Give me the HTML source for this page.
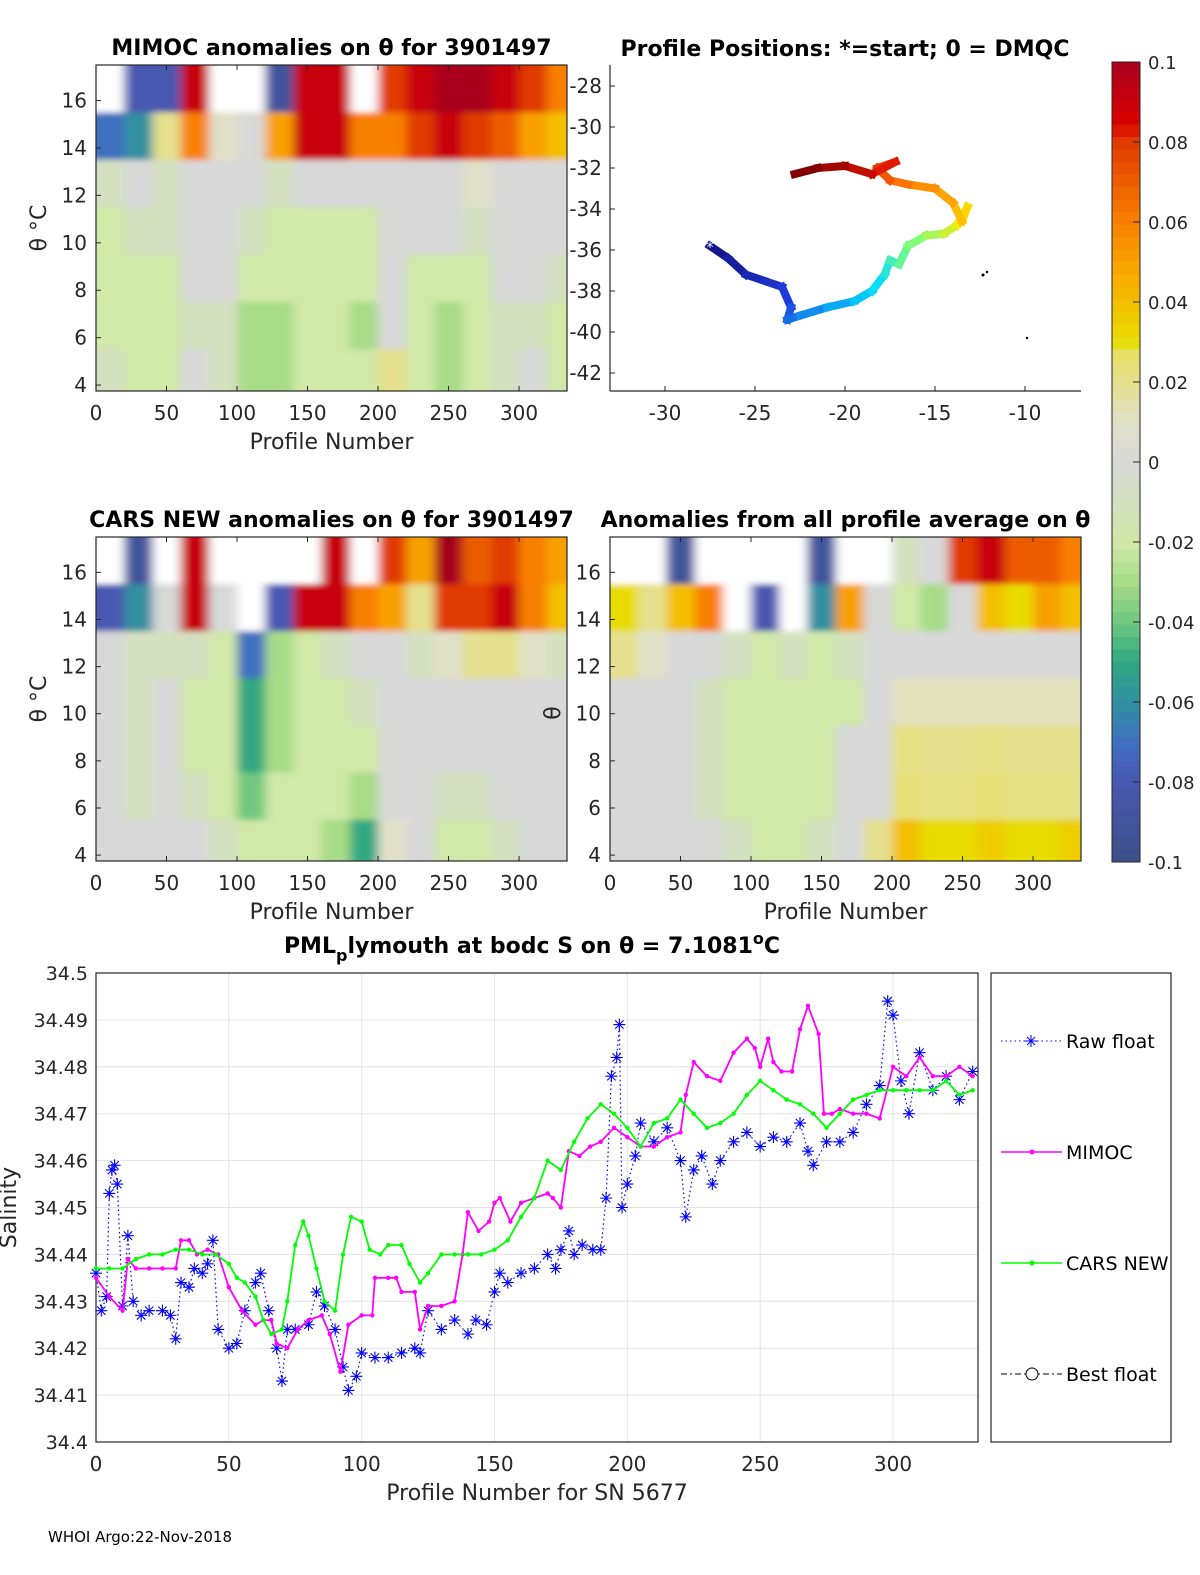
<!DOCTYPE html>
<html><head><meta charset="utf-8">
<style>
body{margin:0;background:#fff;}
svg{display:block;font-family:"DejaVu Sans","Liberation Sans",sans-serif;}
</style></head>
<body>
<svg id="fig" width="1200" height="1575" viewBox="0 0 1200 1575" xmlns="http://www.w3.org/2000/svg">
<defs>
<filter id="soft" x="0" y="0" width="1" height="1"><feGaussianBlur stdDeviation="5 3"/></filter>
<clipPath id="c1"><rect x="96" y="65" width="471" height="326"/></clipPath>
<clipPath id="c2"><rect x="96" y="537" width="471" height="324"/></clipPath>
<clipPath id="c3"><rect x="610" y="537" width="471" height="324"/></clipPath>
</defs>
<g id="layer"></g>
</svg>
<script>
// ---------- DATA ----------
const heatRowsTheta = [17.5,15.5,13.5,11.5,9.5,7.5,5.5,3.75];
const heatColProfiles = [0,20,40,60,80,100,120,140,160,180,200,220,240,260,280,300,320,334];
const mimocAnom = [
[null,-0.08,-0.08,0.09,null,null,-0.09,0.09,0.09,null,0.08,0.09,0.1,0.1,0.09,0.08,0.06],
[-0.07,-0.06,0.02,0.06,0.01,0.0,0.05,0.09,0.09,0.06,0.06,0.08,0.09,0.08,0.07,0.05,0.04],
[-0.01,0.0,-0.01,0.0,0.0,0.0,-0.01,0.0,0.0,0.0,0.0,0.0,0.0,0.01,0.0,0.0,0.0],
[-0.02,-0.01,-0.01,0.0,0.0,-0.01,-0.02,-0.02,-0.02,-0.02,0.0,0.0,0.0,-0.01,0.0,0.0,0.0],
[-0.02,-0.02,-0.02,0.0,0.0,-0.02,-0.02,-0.02,-0.02,-0.02,0.0,-0.02,-0.02,-0.02,0.0,0.0,-0.01],
[-0.02,-0.02,-0.02,-0.01,-0.01,-0.03,-0.03,-0.02,-0.02,-0.03,0.0,-0.02,-0.03,-0.02,-0.01,-0.01,-0.02],
[-0.01,-0.02,-0.02,0.0,-0.01,-0.03,-0.03,-0.02,-0.02,-0.02,0.02,-0.02,-0.03,-0.02,-0.01,0.0,-0.02]];
const carsAnom = [
[null,-0.09,null,0.09,null,null,null,null,0.09,null,0.08,0.05,0.1,0.07,0.08,0.06,0.05],
[-0.08,-0.06,0.0,0.09,0.0,null,-0.08,0.09,0.09,0.06,0.05,0.02,0.08,0.08,0.09,0.06,0.04],
[0.0,-0.01,-0.01,-0.01,-0.02,-0.07,-0.03,-0.02,-0.01,0.0,0.0,-0.01,0.01,0.02,0.02,0.01,-0.01],
[0.0,-0.01,0.0,-0.02,-0.02,-0.05,-0.03,-0.02,-0.02,-0.01,0.0,0.0,0.0,0.0,0.0,0.0,0.0],
[0.0,-0.01,0.0,-0.02,-0.02,-0.05,-0.03,-0.02,-0.02,-0.02,0.0,0.0,0.0,0.0,0.0,0.0,0.0],
[0.0,-0.01,0.0,-0.01,-0.02,-0.04,-0.02,-0.02,-0.02,-0.03,0.0,0.0,-0.01,-0.01,0.0,0.0,0.0],
[0.0,0.0,0.0,0.0,-0.01,-0.02,-0.02,-0.02,-0.03,-0.05,0.01,0.0,-0.02,-0.02,-0.01,0.0,0.0]];
const avgAnom = [
[null,null,-0.09,null,null,null,null,-0.09,null,null,-0.01,0.0,0.08,0.09,0.07,0.07,0.06],
[0.03,0.02,0.04,0.06,null,-0.08,null,-0.06,0.05,0.0,-0.02,-0.03,0.0,0.04,0.03,0.05,0.04],
[0.02,0.01,0.0,0.0,-0.01,-0.02,-0.01,-0.02,-0.01,0.0,0.0,0.0,0.0,0.0,0.0,0.0,0.0],
[0.0,0.0,0.0,-0.01,-0.02,-0.02,-0.02,-0.02,-0.02,0.0,0.012,0.012,0.012,0.012,0.012,0.012,0.012],
[0.0,0.0,0.0,-0.01,-0.02,-0.02,-0.02,-0.02,0.0,0.0,0.022,0.02,0.02,0.022,0.02,0.02,0.02],
[0.0,0.0,0.0,-0.01,-0.02,-0.02,-0.02,-0.02,0.0,0.0,0.024,0.022,0.022,0.024,0.022,0.022,0.022],
[0.0,0.0,0.0,0.0,-0.01,-0.02,-0.02,-0.01,0.0,0.02,0.04,0.03,0.03,0.035,0.03,0.03,0.035]];
const trackLon = [-27.5,-26.5,-25.5,-24.5,-23.5,-23.0,-23.2,-22.5,-21.0,-19.5,-18.5,-17.8,-17.5,-17.0,-16.5,-15.5,-14.5,-13.8,-13.2,-13.5,-14.0,-15.0,-16.5,-17.5,-18.2,-17.2,-18.5,-20.0,-21.5,-22.8];
const trackLat = [-35.8,-36.4,-37.2,-37.5,-37.8,-38.8,-39.4,-39.2,-38.8,-38.5,-38.0,-37.2,-36.5,-36.7,-35.8,-35.3,-35.2,-34.8,-33.9,-34.6,-33.7,-33.0,-32.8,-32.6,-32.0,-31.7,-32.3,-31.9,-32.0,-32.3];
const rawX = [0,2,4,5,6,7,8,10,12,14,17,20,25,28,30,32,35,37,40,42,44,46,50,53,56,60,62,65,68,70,72,75,80,83,86,90,93,95,98,100,105,110,115,120,122,125,130,135,140,143,147,150,152,155,160,165,170,173,175,178,180,183,187,190,192,194,196,197,198,200,203,205,210,215,220,222,225,228,232,235,240,245,250,255,260,265,268,270,275,280,285,290,295,298,300,303,306,310,315,320,325,330];
const rawY = [34.436,34.428,34.431,34.453,34.458,34.459,34.455,34.429,34.444,34.430,34.427,34.428,34.428,34.427,34.422,34.434,34.433,34.437,34.436,34.438,34.443,34.424,34.420,34.421,34.428,34.434,34.436,34.428,34.420,34.413,34.424,34.424,34.425,34.432,34.429,34.424,34.416,34.411,34.414,34.419,34.418,34.418,34.419,34.420,34.419,34.428,34.424,34.426,34.423,34.426,34.425,34.432,34.436,34.434,34.436,34.437,34.440,34.437,34.441,34.445,34.440,34.442,34.441,34.441,34.452,34.478,34.482,34.489,34.450,34.455,34.461,34.468,34.464,34.467,34.460,34.448,34.458,34.461,34.455,34.460,34.464,34.466,34.463,34.465,34.464,34.468,34.462,34.459,34.464,34.464,34.466,34.472,34.476,34.494,34.491,34.477,34.470,34.483,34.475,34.478,34.473,34.479];
const mimocX = [0,5,10,12,15,20,25,30,32,35,38,42,46,50,55,60,63,66,68,72,76,80,85,88,92,95,100,104,105,110,113,115,120,122,125,130,135,138,140,144,148,150,152,156,160,165,170,172,175,178,182,186,190,195,200,205,210,215,220,222,225,230,235,240,245,248,250,253,255,258,262,265,268,272,274,277,280,285,290,295,300,305,310,315,320,325,330];
const mimocY = [34.435,34.431,34.428,34.439,34.437,34.437,34.437,34.437,34.443,34.443,34.440,34.441,34.440,34.433,34.428,34.425,34.426,34.426,34.421,34.420,34.424,34.426,34.427,34.423,34.415,34.425,34.427,34.427,34.435,34.435,34.435,34.432,34.432,34.424,34.429,34.429,34.430,34.440,34.449,34.445,34.447,34.451,34.452,34.447,34.451,34.452,34.453,34.452,34.450,34.462,34.461,34.463,34.464,34.467,34.465,34.463,34.463,34.465,34.466,34.474,34.481,34.478,34.477,34.483,34.486,34.484,34.480,34.486,34.481,34.479,34.479,34.488,34.493,34.487,34.470,34.470,34.471,34.470,34.470,34.469,34.480,34.478,34.482,34.478,34.478,34.480,34.478];
const carsX = [0,5,10,15,20,25,30,35,40,45,50,53,56,60,63,66,70,72,75,78,80,83,86,90,93,96,100,103,107,110,115,118,122,125,130,135,140,145,150,155,160,165,170,175,180,185,190,195,200,205,210,215,220,225,230,235,240,245,250,255,260,265,270,275,280,285,290,295,300,305,310,315,320,325,330];
const carsY = [34.437,34.437,34.437,34.439,34.440,34.440,34.441,34.441,34.440,34.440,34.438,34.435,34.434,34.431,34.426,34.423,34.424,34.430,34.442,34.447,34.444,34.437,34.430,34.428,34.440,34.448,34.447,34.441,34.440,34.442,34.442,34.438,34.434,34.436,34.440,34.440,34.440,34.440,34.441,34.443,34.448,34.452,34.460,34.458,34.464,34.469,34.472,34.470,34.467,34.463,34.468,34.469,34.473,34.470,34.467,34.468,34.470,34.474,34.477,34.475,34.473,34.472,34.470,34.467,34.470,34.473,34.474,34.475,34.475,34.475,34.475,34.475,34.477,34.474,34.475];
const salTicks = [34.4,34.41,34.42,34.43,34.44,34.45,34.46,34.47,34.48,34.49,34.5];
const profTicks = [0,50,100,150,200,250,300];
const thetaTicks = [4,6,8,10,12,14,16];
const latTicks = [-28,-30,-32,-34,-36,-38,-40,-42];
const lonTicks = [-30,-25,-20,-15,-10];
const cbTicks = [0.1,0.08,0.06,0.04,0.02,0,-0.02,-0.04,-0.06,-0.08,-0.1];

// ---------- helpers ----------
const NS='http://www.w3.org/2000/svg';
const L=document.getElementById('layer');
function mk(tag,at,parent){const e=document.createElementNS(NS,tag);for(const k in at)e.setAttribute(k,at[k]);(parent||L).appendChild(e);return e;}
function txt(x,y,s,size,anchor,extra){const e=mk('text',Object.assign({x:x,y:y,'font-size':size,'text-anchor':anchor||'middle',fill:'#262626'},extra||{}));e.textContent=s;return e;}
const stops=[[-0.1,[61,79,136]],[-0.08,[72,88,176]],[-0.07,[64,112,192]],[-0.06,[48,144,160]],[-0.05,[48,168,128]],[-0.04,[112,200,128]],[-0.03,[168,220,136]],[-0.02,[208,232,168]],[0,[216,216,216]],[0.01,[224,224,200]],[0.028,[232,224,96]],[0.03,[232,220,0]],[0.045,[248,176,0]],[0.06,[248,128,0]],[0.08,[224,58,0]],[0.085,[216,0,0]],[0.1,[168,0,30]]];
function interp(st,v){for(let i=0;i<st.length-1;i++){const a=st[i],b=st[i+1];if(v<=b[0]){const t=Math.max(0,(v-a[0])/(b[0]-a[0]));const c=a[1].map((x,j)=>Math.round(x+(b[1][j]-x)*t));return 'rgb('+c.join(',')+')';}}return 'rgb('+st[st.length-1][1].join(',')+')';}
function cmap(v){v=Math.max(-0.1,Math.min(0.1,v));return interp(stops,v);}
const jet=[[0,[20,20,140]],[0.15,[30,60,220]],[0.35,[0,220,255]],[0.5,[130,255,120]],[0.62,[255,230,0]],[0.78,[255,120,0]],[0.9,[220,20,0]],[1,[130,0,0]]];

// ---------- heatmap panels ----------
function heatPanel(x0,y0,w,h,data,name,title,showYLabel,clip){
  const g=mk('g',{});
  
  
  const px=p=>x0+p*(w/334), py=t=>y0+(17.5-t)*(h/13.75);
  const cg=mk('g',{'clip-path':'url(#'+clip+')'},g);
  const fg=mk('g',{filter:'url(#soft)'},cg);
  mk('rect',{x:x0-20,y:y0-20,width:w+40,height:h+40,fill:'none'},fg);
  for(let r=0;r<data.length;r++)for(let c=0;c<data[r].length;c++){
    const v=data[r][c];
    const x1=px(heatColProfiles[c]),x2=px(heatColProfiles[c+1]),yA=py(heatRowsTheta[r]),yB=py(heatRowsTheta[r+1]);
    const ext=(r===data.length-1)?12:0, extT=(r===0)?12:0, extL=(c===0)?12:0, extR=(c===data[r].length-1)?12:0;
    const cell=mk('rect',{x:x1-extL,y:yA-extT,width:x2-x1+0.5+extL+extR,height:yB-yA+0.5+ext+extT,fill:v===null?'#fff':cmap(v)},fg);
    
    
  }
  mk('rect',{x:x0,y:y0,width:w,height:h,fill:'none',stroke:'#262626','stroke-width':1.2},g);
  profTicks.forEach(p=>{mk('line',{x1:px(p),x2:px(p),y1:y0+h,y2:y0+h-5,stroke:'#262626'},g);mk('line',{x1:px(p),x2:px(p),y1:y0,y2:y0+5,stroke:'#262626'},g);txt(px(p),y0+h+29,String(p),20);});
  thetaTicks.forEach(t=>{mk('line',{x1:x0,x2:x0+5,y1:py(t),y2:py(t),stroke:'#262626'},g);txt(x0-9,py(t)+7,String(t),20,'end');});
  txt(x0+w/2,y0+h+58,'Profile Number',22);
  const tt=txt(x0+w/2,y0-10,title,22,'middle',{'font-weight':'bold',fill:'#000'});
  
  
  if(showYLabel){const yl=txt(0,0,'θ °C',22,'middle',{transform:'translate('+(x0-50)+','+(y0+h/2)+') rotate(-90)'});}
}
heatPanel(96,65,471,326,mimocAnom,'mimoc-anomaly-panel','MIMOC anomalies on θ  for 3901497',true,'c1');
heatPanel(96,537,471,324,carsAnom,'cars-anomaly-panel','CARS NEW anomalies on θ for 3901497',true,'c2');
heatPanel(610,537,471,324,avgAnom,'average-anomaly-panel','Anomalies from all profile average on θ',false,'c3');
txt(553,720,'θ',22,'middle',{transform:'rotate(-90 553 713)'});

// ---------- map panel ----------
(function(){
  const x0=610,y0=65,w=471,h=326;
  const g=mk('g',{});
  
  
  const lx=lon=>665+(lon+30)*18, ly=lat=>86+(-28-lat)*20.5;
  mk('line',{x1:x0,x2:x0+w,y1:y0+h,y2:y0+h,stroke:'#262626','stroke-width':1.2},g);
  mk('line',{x1:x0,x2:x0,y1:y0,y2:y0+h,stroke:'#262626','stroke-width':1.2},g);
  lonTicks.forEach(l=>{mk('line',{x1:lx(l),x2:lx(l),y1:y0+h,y2:y0+h-5,stroke:'#262626'},g);txt(lx(l),y0+h+29,String(l),20);});
  latTicks.forEach(l=>{mk('line',{x1:x0,x2:x0+5,y1:ly(l),y2:ly(l),stroke:'#262626'},g);txt(x0-8,ly(l)+7,String(l),20,'end');});
  const n=trackLon.length;
  for(let i=0;i<n-1;i++){
    const seg=mk('line',{x1:lx(trackLon[i]),y1:ly(trackLat[i]),x2:lx(trackLon[i+1]),y2:ly(trackLat[i+1]),stroke:interp(jet,i/(n-2)),'stroke-width':8,'stroke-linecap':'square'},g);
    
    
  }
  txt(lx(trackLon[0]),ly(trackLat[0])+6,'*',14,'middle',{fill:'#fff'});
  mk('circle',{cx:983,cy:275,r:1.5,fill:'#000'},g);mk('circle',{cx:987,cy:272,r:1.2,fill:'#000'},g);mk('circle',{cx:1027,cy:338,r:1.2,fill:'#000'},g);
  const tt=txt(845,56,'Profile Positions: *=start; 0 = DMQC',22,'middle',{'font-weight':'bold',fill:'#000'});
  
  
})();

// ---------- colorbar ----------
(function(){
  const x0=1112,y0=62,w=28,h=800;
  const g=mk('g',{});
  
  
  const cy=v=>y0+(0.1-v)/0.2*h;
  for(let i=0;i<64;i++){const v1=0.1-i*0.2/64;mk('rect',{x:x0,y:cy(v1),width:w,height:h/64+0.5,fill:cmap(v1-0.1/64)},g);}
  mk('rect',{x:x0,y:y0,width:w,height:h,fill:'none',stroke:'#262626','stroke-width':1},g);
  cbTicks.forEach(v=>{mk('line',{x1:x0+w-7,x2:x0+w,y1:cy(v),y2:cy(v),stroke:'#262626'},g);txt(x0+w+8,cy(v)+7,String(v),18,'start');});
})();

// ---------- salinity chart ----------
(function(){
  const x0=96,y0=973,w=882,h=469;
  const g=mk('g',{});
  
  
  const sx=p=>x0+p*(w/332), sy=s=>y0+(34.5-s)/0.1*h;
  mk('rect',{x:x0,y:y0,width:w,height:h,fill:'#fff'},g);
  salTicks.forEach(s=>{mk('line',{x1:x0,x2:x0+w,y1:sy(s),y2:sy(s),stroke:'#e3e3e3'},g);txt(x0-8,sy(s)+7,String(s),19,'end');});
  profTicks.forEach(p=>{mk('line',{x1:sx(p),x2:sx(p),y1:y0,y2:y0+h,stroke:'#e3e3e3'},g);txt(sx(p),y0+h+29,String(p),20);});
  mk('rect',{x:x0,y:y0,width:w,height:h,fill:'none',stroke:'#262626','stroke-width':1.2},g);
  function line(X,Y,color,dash,name){const d=X.map((x,i)=>(i?'L':'M')+sx(x).toFixed(1)+','+sy(Y[i]).toFixed(1)).join('');const p=mk('path',{d:d,fill:'none',stroke:color,'stroke-width':dash?1.2:1.8,'stroke-dasharray':dash||'none'},g);}
  line(rawX,rawY,'#0000ff','1.5 3','raw-float-line');
  rawX.forEach((x,i)=>{const cx=sx(x),cy=sy(rawY[i]),r=6;const s=mk('path',{d:`M${cx-r},${cy}L${cx+r},${cy}M${cx},${cy-r}L${cx},${cy+r}M${cx-4.2},${cy-4.2}L${cx+4.2},${cy+4.2}M${cx-4.2},${cy+4.2}L${cx+4.2},${cy-4.2}`,stroke:'#0000ff','stroke-width':1.1},g);});
  line(mimocX,mimocY,'#ff00ff',null,'mimoc-line');
  mimocX.forEach((x,i)=>{const c=mk('circle',{cx:sx(x),cy:sy(mimocY[i]),r:2.2,fill:'#ff00ff'},g);});
  line(carsX,carsY,'#00ff00',null,'cars-new-line');
  carsX.forEach((x,i)=>{const c=mk('circle',{cx:sx(x),cy:sy(carsY[i]),r:2.2,fill:'#00ff00'},g);});
  txt(x0+w/2,y0+h+58,'Profile Number for SN 5677',22);
  const yl=txt(0,0,'Salinity',22,'middle',{transform:'translate(16,'+(y0+h/2)+') rotate(-90)'});
  
  
  const t=mk('text',{x:x0+w/2-5,y:953,'font-size':22,'text-anchor':'middle','font-weight':'bold',fill:'#000'},g);
  
  
  t.innerHTML='PML<tspan font-size="16" dy="8">p</tspan><tspan dy="-8">lymouth at bodc S on θ = 7.1081</tspan><tspan font-size="16" dy="-9">o</tspan><tspan dy="9">C</tspan>';
  // legend
  const lg=mk('g',{});
  
  
  mk('rect',{x:991,y:973,width:180,height:469,fill:'#fff',stroke:'#262626','stroke-width':1.2},lg);
  const ents=[['Raw float',1041],['MIMOC',1152],['CARS NEW',1263],['Best float',1374]];
  ents.forEach((e,i)=>{
    const eg=mk('g',{},lg);
    
    
    const y=e[1];
    if(i===0){mk('line',{x1:1001,x2:1062,y1:y,y2:y,stroke:'#0000ff','stroke-dasharray':'1.5 3'},eg);mk('path',{d:`M1025,${y}L1037,${y}M1031,${y-6}L1031,${y+6}M1027,${y-4}L1035,${y+4}M1027,${y+4}L1035,${y-4}`,stroke:'#0000ff'},eg);}
    if(i===1){mk('line',{x1:1001,x2:1062,y1:y,y2:y,stroke:'#ff00ff','stroke-width':1.5},eg);mk('circle',{cx:1032,cy:y,r:2.5,fill:'#ff00ff'},eg);}
    if(i===2){mk('line',{x1:1001,x2:1062,y1:y,y2:y,stroke:'#00ff00','stroke-width':1.5},eg);mk('circle',{cx:1032,cy:y,r:2.5,fill:'#00ff00'},eg);}
    if(i===3){mk('line',{x1:1001,x2:1062,y1:y,y2:y,stroke:'#000','stroke-dasharray':'6 3 2 3'},eg);mk('circle',{cx:1032,cy:y,r:6,fill:'#fff',stroke:'#000'},eg);}
    txt(1066,y+7,e[0],19,'start',{fill:'#000'});
  });
})();
txt(48,1542,'WHOI Argo:22-Nov-2018',15,'start',{fill:'#000'});
</script>
</body></html>
